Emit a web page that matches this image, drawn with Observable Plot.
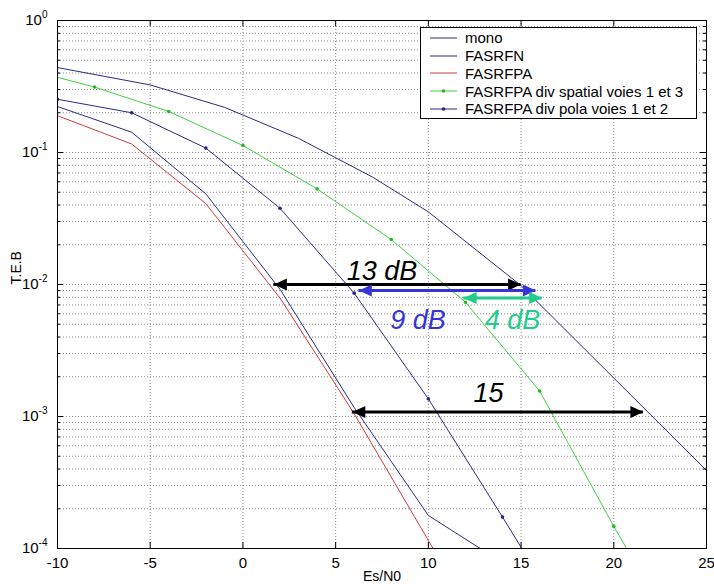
<!DOCTYPE html>
<html>
<head>
<meta charset="utf-8">
<script src="https://cdn.jsdelivr.net/npm/d3@7"></script>
<script src="https://cdn.jsdelivr.net/npm/@observablehq/plot@0.6"></script>
<style>
  body { margin: 0; background: #fff; }
  #wrap { position: relative; width: 714px; height: 588px; font-family: "Liberation Sans", Arial, sans-serif; }
  #legend { position: absolute; left: 420px; top: 27px; width: 277px; height: 92px; border: 1px solid #000; background: #fff; box-sizing: border-box; padding-top: 1px; }
  .row { height: 17.75px; display: flex; align-items: center; font-size: 15px; color: #000; white-space: nowrap; }
  .row svg { margin-left: 9px; margin-right: 8px; }
</style>
</head>
<body>
<div id="wrap"></div>
<script>
// ---- data ----
const monoX = [-10, -5, -1, 3, 7, 10, 15, 25];
const monoY = [0.44, 0.325, 0.22, 0.128, 0.065, 0.0355, 0.0098, 0.00039];

const fasrfnX = [-10, -6, -2, 2, 6, 10, 14];
const fasrfnY = [0.223, 0.1425, 0.0486, 0.0092, 0.00117, 0.000178, 0.000078];

const fasrfpaX = [-10, -6, -2, 2, 6, 10, 14];
const fasrfpaY = [0.19, 0.116, 0.041, 0.0079, 0.00105, 0.000115, 0.000013];

const spatialX = [-12, -8, -4, 0, 4, 8, 12, 16, 20, 24];
const spatialY = [0.44, 0.313, 0.2045, 0.113, 0.053, 0.0219, 0.00734, 0.00156, 0.000147, 0.000016];

const polaX = [-10, -6, -2, 2, 6, 10, 14, 18];
const polaY = [0.253, 0.2, 0.108, 0.0378, 0.0086, 0.00136, 0.000173, 0.000021];

const seriesNames = ["mono", "FASRFN", "FASRFPA", "FASRFPA div spatial voies 1 et 3", "FASRFPA div pola voies 1 et 2"];

// annotations: double arrows and their labels
const arrowX1 = [1.67, 6.25, 11.9, 5.9];
const arrowX2 = [15.0, 15.8, 16.14, 21.6];
const arrowY = [0.01, 0.009, 0.0079, 0.00108];
const arrowColors = ["#000000", "#3434d8", "#1fcc8a", "#000000"];

const labelText = ["13 dB", "9 dB", "4 dB", "15"];
const labelX = [7.5, 9.44, 14.54, 13.25];
const labelY = [0.01265, 0.00533, 0.00533, 0.00151];
const labelColors = ["#000000", "#3434d8", "#1fcc8a", "#000000"];

const xTicks = [-10, -5, 0, 5, 10, 15, 20, 25];
const xGrid = [-5, 0, 5, 10, 15, 20];
const yTicks = [1, 0.1, 0.01, 0.001, 0.0001];
const yMinor = [];
for (let e = -4; e < 0; e++) for (let m = 2; m <= 9; m++) yMinor.push(+(m * Math.pow(10, e)).toPrecision(3));
const yGrid = yTicks.concat(yMinor);

// ---- build ----
const navy = "#2a2a80";
const red = "#cc3b3b";
const green = "#3fd03f";
const polaC = "#23238a";

const toPts = (xs, ys) => xs.map((x, i) => ({x, y: ys[i]}));
const mono = toPts(monoX, monoY);
const fasrfn = toPts(fasrfnX, fasrfnY);
const fasrfpa = toPts(fasrfpaX, fasrfpaY);
const spatial = toPts(spatialX, spatialY);
const pola = toPts(polaX, polaY);

const arrows = arrowX1.map((x1, i) => ({x1, x2: arrowX2[i], y: arrowY[i], color: arrowColors[i]}));
const labels = labelText.map((t, i) => ({t, x: labelX[i], y: labelY[i], color: labelColors[i]}));

const headLeft = {draw(ctx) { ctx.moveTo(0, 0); ctx.lineTo(13, -6); ctx.lineTo(13, 6); ctx.closePath(); }};
const headRight = {draw(ctx) { ctx.moveTo(0, 0); ctx.lineTo(-13, -6); ctx.lineTo(-13, 6); ctx.closePath(); }};

const fw = 714 - 57 - 8;   // frame width
const fh = 588 - 20 - 40;  // frame height

const arrowMarks = [];
arrows.forEach(a => {
  arrowMarks.push(Plot.ruleY([a], {x1: "x1", x2: "x2", y: "y", stroke: a.color, strokeWidth: 3}));
  arrowMarks.push(Plot.dot([a], {x: "x1", y: "y", symbol: headLeft, r: 5, fill: a.color, stroke: null}));
  arrowMarks.push(Plot.dot([a], {x: "x2", y: "y", symbol: headRight, r: 5, fill: a.color, stroke: null}));
});
const labelMarks = labels.map(l => Plot.text([l], {x: "x", y: "y", text: "t", fill: l.color, fontSize: 27, fontStyle: "italic", textAnchor: "middle", lineAnchor: "middle"}));

const chart = Plot.plot({
  width: 714, height: 588,
  marginLeft: 57, marginRight: 8, marginTop: 20, marginBottom: 40,
  style: {fontFamily: "'Liberation Sans', Arial, sans-serif", fontSize: "15px", background: "#fff", color: "#000"},
  x: {domain: [-10, 25]},
  y: {type: "log", domain: [1e-4, 1]},
  marks: [
    Plot.ruleY(yGrid, {y: d => d, stroke: "#8a8a8a", strokeDasharray: "1,2", strokeWidth: 1}),
    Plot.ruleX(xGrid, {x: d => d, stroke: "#8a8a8a", strokeDasharray: "1,2", strokeWidth: 1}),
    Plot.line(mono, {x: "x", y: "y", stroke: navy, strokeWidth: 1, clip: true}),
    Plot.line(fasrfn, {x: "x", y: "y", stroke: navy, strokeWidth: 1, clip: true}),
    Plot.line(fasrfpa, {x: "x", y: "y", stroke: red, strokeWidth: 1, clip: true}),
    Plot.line(spatial, {x: "x", y: "y", stroke: green, strokeWidth: 1, clip: true}),
    Plot.dot(spatial, {x: "x", y: "y", fill: "#22bb22", r: 1.8, clip: true}),
    Plot.line(pola, {x: "x", y: "y", stroke: navy, strokeWidth: 1, clip: true}),
    Plot.dot(pola, {x: "x", y: "y", fill: polaC, r: 1.8, clip: true}),
    ...arrowMarks,
    ...labelMarks,
    Plot.frame({stroke: "#000"}),
    // inward tick marks
    Plot.tickY(yTicks, {y: d => d, insetRight: fw - 6, stroke: "#000"}),
    Plot.tickY(yMinor, {y: d => d, insetRight: fw - 3, stroke: "#000"}),
    Plot.tickY(yTicks, {y: d => d, insetLeft: fw - 6, stroke: "#000"}),
    Plot.tickY(yMinor, {y: d => d, insetLeft: fw - 3, stroke: "#000"}),
    Plot.tickX(xTicks, {x: d => d, insetTop: fh - 6, stroke: "#000"}),
    Plot.tickX(xTicks, {x: d => d, insetBottom: fh - 6, stroke: "#000"}),
    Plot.axisX(xTicks, {tickSize: 0, tickPadding: 9, label: null, fontSize: 15, tickFormat: d => String(d)}),
    Plot.axisY(yTicks, {tickSize: 0, tickPadding: 10, label: null, fontSize: 15, tickFormat: d => "10|" + Math.round(Math.log10(d))}),
    Plot.text(["T.E.B"], {frameAnchor: "left", dx: -41, rotate: -90, fontSize: 14, fill: "#000"}),
    Plot.text(["Es/N0"], {frameAnchor: "bottom", dy: 32, fontSize: 14, fill: "#000"})
  ]
});

// superscript exponents on the y tick labels
d3.select(chart).selectAll('[aria-label="y-axis tick label"] text').each(function() {
  const s = this.textContent.split("|");
  if (s.length !== 2) return;
  const t = d3.select(this);
  t.text(null);
  t.append("tspan").text(s[0]);
  t.append("tspan").attr("dy", "-7").attr("font-size", "10px").text(s[1]);
});

const wrap = document.getElementById("wrap");
wrap.appendChild(chart);

// legend
const legendStyles = [
  {stroke: navy, dot: null},
  {stroke: navy, dot: null},
  {stroke: red, dot: null},
  {stroke: green, dot: "#22bb22"},
  {stroke: navy, dot: polaC}
];
const leg = document.createElement("div");
leg.id = "legend";
seriesNames.forEach((name, i) => {
  const st = legendStyles[i];
  const row = document.createElement("div");
  row.className = "row";
  row.innerHTML = `<svg width="27" height="8"><line x1="0" x2="27" y1="4" y2="4" stroke="${st.stroke}" stroke-width="1"/>${st.dot ? `<circle cx="13.5" cy="4" r="1.8" fill="${st.dot}"/>` : ""}</svg><span>${name}</span>`;
  leg.appendChild(row);
});
wrap.appendChild(leg);
</script>
</body>
</html>
